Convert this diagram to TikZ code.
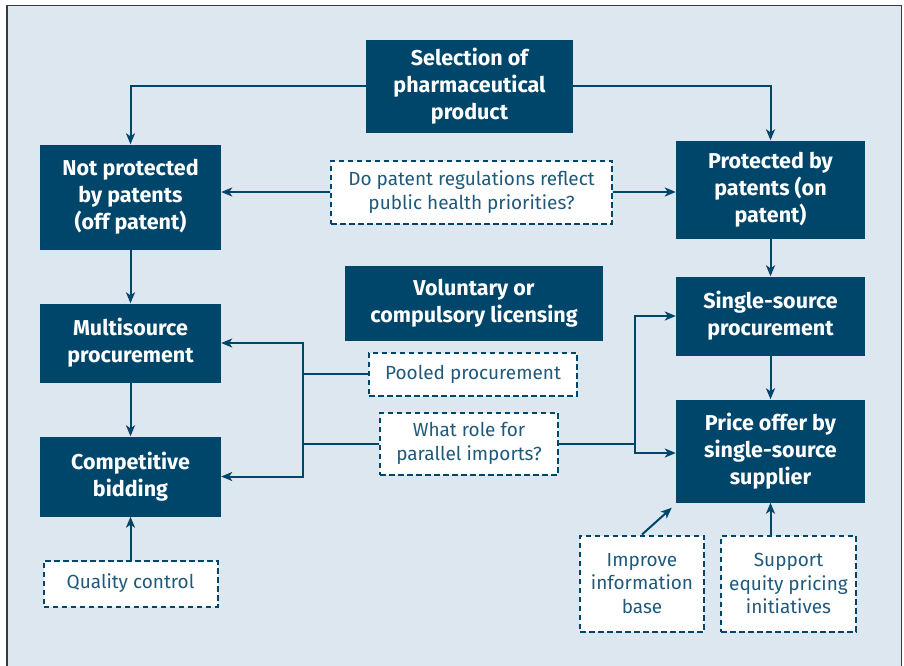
\documentclass[tikz,border=0pt]{standalone}
\usepackage{fontspec}
\setmainfont{Fira Sans}
\usetikzlibrary{arrows.meta, calc}

\definecolor{navy}{HTML}{00466B}
\definecolor{paleblue}{HTML}{DDE7F0}
\definecolor{asktext}{HTML}{1F5A7D}
\definecolor{framegray}{HTML}{3A3A3A}

\begin{document}
\begin{tikzpicture}[x=1pt, y=-1pt,
	>={Stealth[length=11pt, width=9pt, inset=3pt]},
	step box/.style={fill=navy, text=white, align=center, inner sep=0pt,
		font=\bfseries\fontsize{21.5}{27}\selectfont},
	ask box/.style={draw=navy, fill=white, text=asktext, align=center, inner sep=0pt,
		line width=2pt, dash pattern=on 5.5pt off 3.5pt,
		font=\fontsize{19}{23.5}\selectfont},
	link/.style={draw=navy, line width=2pt}]
	\useasboundingbox (0,0) rectangle (904,665);
	\draw[fill=paleblue, draw=framegray, line width=1.8pt] (7,5.5) rectangle (901.5,680);
	
	\node[step box, minimum width=207pt, minimum height=93pt] (sel) at (469.5,86) {Selection of\\pharmaceutical\\product};
	\node[step box, minimum width=181pt, minimum height=105pt] (offpat) at (130.5,197) {Not protected\\by patents\\(off patent)};
	\node[step box, minimum width=189pt, minimum height=98pt] (onpat) at (770.5,189.5) {Protected by\\patents (on\\patent)};
	\node[ask box, minimum width=281pt, minimum height=63pt] (patq) at (471.5,192) {Do patent regulations reflect\\public health priorities?};
	\node[step box, minimum width=258pt, minimum height=75pt] (lic) at (474,303) {Voluntary or\\compulsory licensing};
	\node[step box, minimum width=181pt, minimum height=79pt] (multi) at (130.5,343) {Multisource\\procurement};
	\node[step box, minimum width=189pt, minimum height=79pt] (single) at (770.5,316) {Single-source\\procurement};
	\node[ask box, minimum width=208pt, minimum height=43pt] (pooled) at (473,374) {Pooled procurement};
	\node[ask box, minimum width=178pt, minimum height=62pt] (parallel) at (469,443.5) {What role for\\parallel imports?};
	\node[step box, minimum width=181pt, minimum height=80pt] (bidding) at (130.5,476.5) {Competitive\\bidding};
	\node[step box, minimum width=189pt, minimum height=103pt] (price) at (770.5,451) {Price offer by\\single-source\\supplier};
	\node[ask box, minimum width=174pt, minimum height=46pt] (quality) at (130.5,583.5) {Quality control};
	\node[ask box, minimum width=124pt, minimum height=96pt] (info) at (642,583.5) {Improve\\information\\base};
	\node[ask box, minimum width=135pt, minimum height=96pt] (equity) at (788.5,583.5) {Support\\equity pricing\\initiatives};
	
	\coordinate (lbus) at (303,374);
	\coordinate (rbus) at (635,374);
	
	% top split
	\draw[link,->] (sel.west) -| (offpat.north);
	\draw[link,->] (sel.east) -| (onpat.north);
	\draw[link,->] (patq.west) -- (patq.west -| offpat.east);
	\draw[link,->] (patq.east) -- (patq.east -| onpat.west);
	
	% down the two columns
	\draw[link,->] (offpat.south) -- (multi.north);
	\draw[link,->] (multi.south) -- (bidding.north);
	\draw[link,->] (onpat.south) -- (single.north);
	\draw[link,->] (single.south) -- (price.north);
	
	% brackets in the middle
	\draw[link,<->] (multi.east) -| (lbus) |- (bidding.east);
	\draw[link] (pooled.west) -- (pooled.west -| lbus);
	\draw[link] (parallel.west) -- (parallel.west -| lbus);
	\draw[link,<->] (single.west) -| (rbus) |- ([yshift=-2pt]price.west);
	\draw[link] ($(pooled.north east)!0.3!(pooled.south east)$) -- ($(pooled.north east)!0.3!(pooled.south east)$ -| rbus);
	\draw[link] (parallel.east) -- (parallel.east -| rbus);
	
	% bottom inputs
	\draw[link,->] (quality.north) -- (bidding.south);
	\draw[link,->] (info.north) -- ([xshift=-4pt, yshift=-5pt]price.south west);
	\draw[link,->] (equity.north -| price.south) -- (price.south);
\end{tikzpicture}
\end{document}
